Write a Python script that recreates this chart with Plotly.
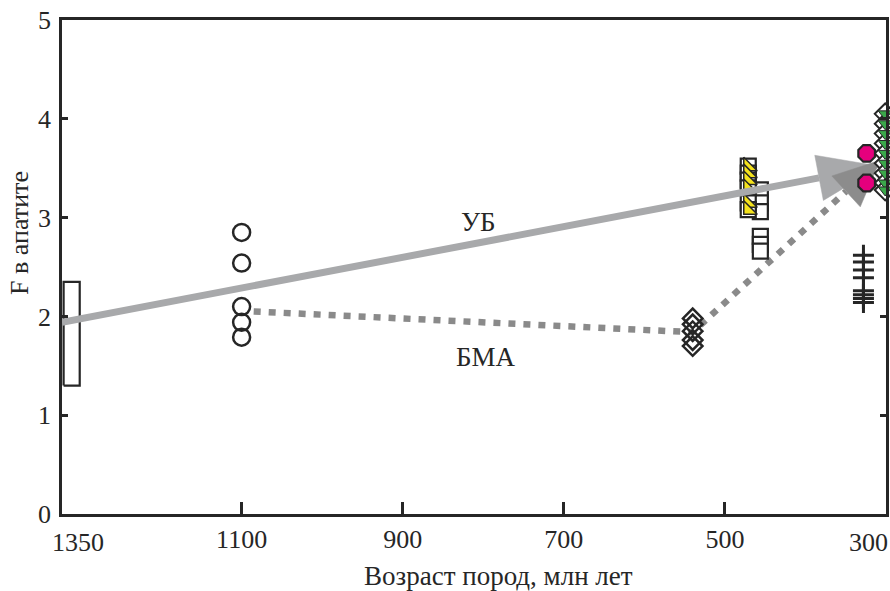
import math
import plotly.graph_objects as go

# ---------------- data ----------------
AXIS_START = 1323          # left edge of the age axis (labelled 1350)
AXIS_END = 300
tick_vals = [AXIS_START, 1100, 900, 700, 500, 300]
tick_text = ["1350", "1100", "900", "700", "500", "300"]

rect_age = [1321, 1301]
rect_F = [1.30, 2.35]

circ_age = 1100
circ_F = [2.85, 2.54, 2.10, 1.94, 1.79]

diam_age = 540
diam_F = [1.98, 1.92, 1.85, 1.76, 1.70]

ysq_age = 471
ysq_F = [3.52, 3.45, 3.38, 3.30, 3.15, 3.08]

wsq_age = 456
wsq_F = [3.28, 3.15, 3.06, 2.81, 2.73, 2.66]

oct_age = 324
oct_F = [3.65, 3.35]

cross_age = 328
cross_F = [2.62, 2.55, 2.47, 2.39, 2.26, 2.22, 2.18, 2.14]

gd_age = 301
gd_F = [4.05, 3.95, 3.85, 3.75, 3.65, 3.55, 3.45, 3.35, 3.28]

ub_age = [AXIS_START, 307.5]      # tail, tip
ub_F = [1.94, 3.52]

bma_age = [1085, 540, 307.5]      # last point is the arrow tip
bma_F = [2.05, 1.84, 3.58]

label_ub = ("УБ", 806, 2.96)
label_bma = ("БМА", 796, 1.59)

FONT = "Liberation Serif, Times New Roman, serif"
INK = "#262626"

# plot-area geometry (used to build arrowheads in screen proportions)
W, H = 890, 591
ML, MR, MT, MB = 62, 4, 20, 77
SX = (W - ML - MR) / (AXIS_START - AXIS_END)
SY = (H - MT - MB) / 5.0


def arrow(tail_age, tail_F, tip_age, tip_F, length, width):
    tx, ty = (AXIS_START - tail_age) * SX, tail_F * SY
    hx, hy = (AXIS_START - tip_age) * SX, tip_F * SY
    d = math.hypot(hx - tx, hy - ty)
    ux, uy = (hx - tx) / d, (hy - ty) / d
    bx, by = hx - ux * length, hy - uy * length
    nx, ny = -uy, ux
    pts = [(hx, hy), (bx + nx * width / 2, by + ny * width / 2),
           (bx - nx * width / 2, by - ny * width / 2), (hx, hy)]
    head_x = [AXIS_START - p[0] / SX for p in pts]
    head_y = [p[1] / SY for p in pts]
    base = (AXIS_START - bx / SX, by / SY)
    return head_x, head_y, base


ub_hx, ub_hy, ub_base = arrow(ub_age[0], ub_F[0], ub_age[1], ub_F[1], 62, 46)
bma_hx, bma_hy, bma_base = arrow(bma_age[1], bma_F[1], bma_age[2], bma_F[2], 46, 42)

fig = go.Figure()

# rectangle (age range at the start of the axis)
fig.add_trace(go.Scatter(
    x=[rect_age[0], rect_age[1], rect_age[1], rect_age[0], rect_age[0]],
    y=[rect_F[0], rect_F[0], rect_F[1], rect_F[1], rect_F[0]],
    mode="lines", line=dict(color=INK, width=2.2), cliponaxis=False,
    hoverinfo="skip"))

# circles at 1100
fig.add_trace(go.Scatter(
    x=[circ_age] * len(circ_F), y=circ_F, mode="markers",
    marker=dict(symbol="circle-open", size=17, color=INK, line=dict(width=2.5))))

# dotted БМА trend
fig.add_trace(go.Scatter(
    x=bma_age[:2] + [bma_base[0]], y=bma_F[:2] + [bma_base[1]], mode="lines",
    line=dict(color="#8a8a8a", width=6.5, dash="7px,8px"),
    hoverinfo="skip"))

# diamonds at ~540
fig.add_trace(go.Scatter(
    x=[diam_age] * len(diam_F), y=diam_F, mode="markers",
    marker=dict(symbol="diamond-open", size=15, color=INK, line=dict(width=2.5))))

# white squares
fig.add_trace(go.Scatter(
    x=[wsq_age] * len(wsq_F), y=wsq_F, mode="markers",
    marker=dict(symbol="square", size=15, color="white", line=dict(color=INK, width=2.2))))

# yellow squares
fig.add_trace(go.Scatter(
    x=[ysq_age] * len(ysq_F), y=ysq_F, mode="markers",
    marker=dict(symbol="square", size=15, color="white", line=dict(color=INK, width=2.2))))
fig.add_trace(go.Scatter(
    x=[ysq_age] * len(ysq_F), y=ysq_F, mode="markers",
    marker=dict(symbol="triangle-sw", size=15, color="#f4e21c", line=dict(color=INK, width=1.5))))

# crosses
fig.add_trace(go.Scatter(
    x=[cross_age] * len(cross_F), y=cross_F, mode="markers",
    marker=dict(symbol="cross-thin-open", size=15, color=INK, line=dict(width=3, color=INK))))

# solid УБ trend + arrowheads
fig.add_trace(go.Scatter(
    x=[ub_age[0], ub_base[0]], y=[ub_F[0], ub_base[1]], mode="lines",
    line=dict(color="#a8a9ab", width=7), cliponaxis=False, hoverinfo="skip"))
fig.add_trace(go.Scatter(
    x=ub_hx, y=ub_hy, mode="lines", fill="toself", fillcolor="#a8a9ab",
    line=dict(color="#a8a9ab", width=0.5), cliponaxis=False, hoverinfo="skip"))
fig.add_trace(go.Scatter(
    x=bma_hx, y=bma_hy, mode="lines", fill="toself", fillcolor="#8c8c8c",
    line=dict(color="#8c8c8c", width=0.5), cliponaxis=False, hoverinfo="skip"))

# diamonds with green triangles
fig.add_trace(go.Scatter(
    x=[gd_age] * len(gd_F), y=gd_F, mode="markers", cliponaxis=False,
    marker=dict(symbol="diamond", size=16, color="white", line=dict(color=INK, width=2))))
fig.add_trace(go.Scatter(
    x=[gd_age] * len(gd_F), y=gd_F, mode="markers", cliponaxis=False,
    marker=dict(symbol="triangle-down", size=12, color="#3aa84a", line=dict(color=INK, width=1))))

# magenta octagons
fig.add_trace(go.Scatter(
    x=[oct_age] * len(oct_F), y=oct_F, mode="markers", cliponaxis=False,
    marker=dict(symbol="octagon", size=18, color="#e5007d", line=dict(color=INK, width=2.2))))

for txt, xa, ya in (label_ub, label_bma):
    fig.add_annotation(x=xa, y=ya, text=txt, showarrow=False,
                       font=dict(family=FONT, size=27, color=INK))

# end tick labels (kept inside the frame, as in the original)
fig.add_annotation(x=AXIS_START - 16 / SX, y=0, yref="y", text=tick_text[0],
                   showarrow=False, yanchor="top", yshift=-12,
                   font=dict(family=FONT, size=26, color=INK))
fig.add_annotation(x=AXIS_END + 18 / SX, y=0, yref="y", text=tick_text[-1],
                   showarrow=False, yanchor="top", yshift=-12,
                   font=dict(family=FONT, size=26, color=INK))

# axis titles
fig.add_annotation(text="F в апатите", xref="paper", yref="paper",
                   x=(20 - ML) / (W - ML - MR), y=0.569, textangle=-90, showarrow=False,
                   xanchor="center", yanchor="middle",
                   font=dict(family=FONT, size=26, color=INK))
fig.add_annotation(text="Возраст пород, млн лет", xref="paper", yref="paper",
                   x=(498 - ML) / (W - ML - MR), y=-0.125, showarrow=False,
                   xanchor="center", yanchor="middle",
                   font=dict(family=FONT, size=27, color=INK))

fig.update_layout(
    width=W, height=H,
    margin=dict(l=ML, r=MR, t=MT, b=MB, autoexpand=False),
    paper_bgcolor="white", plot_bgcolor="white",
    showlegend=False,
    font=dict(family=FONT, size=26, color=INK),
    xaxis=dict(range=[AXIS_START, AXIS_END], tickvals=tick_vals[1:-1],
               ticktext=tick_text[1:-1],
               ticks="inside", ticklen=12, tickwidth=2.5, tickcolor=INK,
               showline=True, linecolor=INK, linewidth=2.5, mirror=True,
               showgrid=False, zeroline=False, ticklabelstandoff=0,
               automargin=False),
    yaxis=dict(range=[0, 5], tickvals=[0, 1, 2, 3, 4, 5],
               ticks="inside", ticklen=6, tickwidth=2.5, tickcolor=INK,
               showline=True, linecolor=INK, linewidth=2.5, mirror="ticks",
               showgrid=False, zeroline=False, ticklabelstandoff=3,
               automargin=False),
)

fig.write_html("out.html")
